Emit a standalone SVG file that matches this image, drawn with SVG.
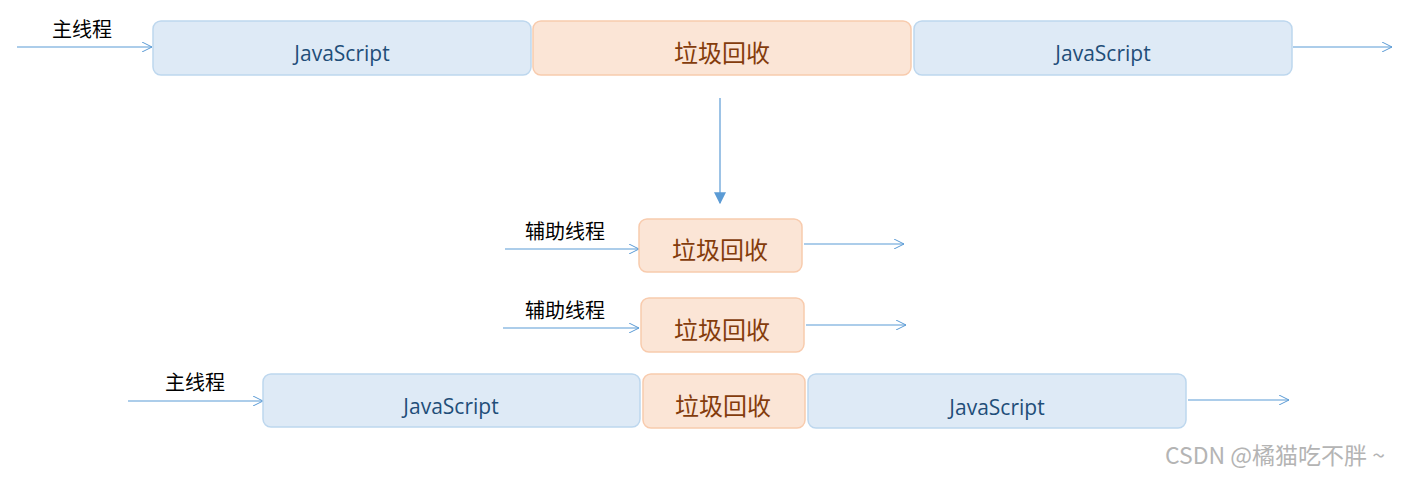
<svg xmlns="http://www.w3.org/2000/svg" width="1402" height="477" viewBox="0 0 1402 477">
<defs>
<marker id="open" viewBox="0 0 10 10" refX="10" refY="5" markerWidth="10" markerHeight="10" markerUnits="userSpaceOnUse" orient="auto"><path d="M0,0 L10,5 L0,10" fill="none" stroke="#5B9BD5" stroke-width="1"/></marker>
<marker id="filled" viewBox="0 0 10 10" refX="9" refY="5" markerWidth="12" markerHeight="12" markerUnits="userSpaceOnUse" orient="auto"><path d="M0,0 L10,5 L0,10 Z" fill="#5B9BD5"/></marker>
<style>
.js{fill:#DEEAF6;stroke:#BDD7EE;stroke-width:1.5}
.gc{fill:#FBE5D6;stroke:#F8CBAD;stroke-width:1.5}
.jt{font-family:"Open Sans","Liberation Sans",sans-serif;font-size:21px;fill:#1F4E79;text-anchor:middle}
.gt{font-family:"Noto Sans CJK SC",sans-serif;font-size:24px;fill:#843C0C;text-anchor:middle}
.lb{font-family:"Noto Sans CJK SC",sans-serif;font-size:20px;fill:#000;text-anchor:middle}
.ln{stroke:#5B9BD5;stroke-width:1.2;fill:none}
</style>
</defs>
<g id="connectors">
<line class="ln" x1="17" y1="47" x2="152" y2="47" marker-end="url(#open)"/>
<line class="ln" x1="1293" y1="47" x2="1392" y2="47" marker-end="url(#open)"/>
<line class="ln" x1="720" y1="98" x2="720" y2="203" stroke-width="2" marker-end="url(#filled)"/>
<line class="ln" x1="505" y1="249" x2="639" y2="249" marker-end="url(#open)"/>
<line class="ln" x1="804" y1="244" x2="904" y2="244" marker-end="url(#open)"/>
<line class="ln" x1="503" y1="328" x2="639" y2="328" marker-end="url(#open)"/>
<line class="ln" x1="806" y1="325" x2="906" y2="325" marker-end="url(#open)"/>
<line class="ln" x1="128" y1="401" x2="263" y2="401" marker-end="url(#open)"/>
<line class="ln" x1="1188" y1="400" x2="1289" y2="400" marker-end="url(#open)"/>
</g>
<g id="label-main-top"><text class="lb" x="82" y="37">主线程</text></g>
<g id="js-top-1"><rect class="js" x="153" y="21" width="378" height="54" rx="8"/><text class="jt" x="342" y="61">JavaScript</text></g>
<g id="gc-top"><rect class="gc" x="533" y="21" width="378" height="54" rx="8"/><text class="gt" x="722" y="62">垃圾回收</text></g>
<g id="js-top-2"><rect class="js" x="914" y="21" width="378" height="54" rx="8"/><text class="jt" x="1103" y="61">JavaScript</text></g>
<g id="label-helper-1"><text class="lb" x="565" y="239">辅助线程</text></g>
<g id="gc-helper-1"><rect class="gc" x="639" y="219" width="163" height="53" rx="8"/><text class="gt" x="720" y="259">垃圾回收</text></g>
<g id="label-helper-2"><text class="lb" x="565" y="318">辅助线程</text></g>
<g id="gc-helper-2"><rect class="gc" x="641" y="298" width="163" height="54" rx="8"/><text class="gt" x="722" y="339">垃圾回收</text></g>
<g id="label-main-bottom"><text class="lb" x="195" y="390">主线程</text></g>
<g id="js-bottom-1"><rect class="js" x="263" y="374" width="377" height="53" rx="8"/><text class="jt" x="451" y="414">JavaScript</text></g>
<g id="gc-bottom"><rect class="gc" x="643" y="374" width="162" height="54" rx="8"/><text class="gt" x="723" y="415">垃圾回收</text></g>
<g id="js-bottom-2"><rect class="js" x="808" y="374" width="378" height="54" rx="8"/><text class="jt" x="997" y="415">JavaScript</text></g>
<text x="1275" y="464" font-family="'Noto Sans CJK SC',sans-serif" font-size="23" fill="#B4B4B4" text-anchor="middle">CSDN @橘猫吃不胖 ~</text>
</svg>
